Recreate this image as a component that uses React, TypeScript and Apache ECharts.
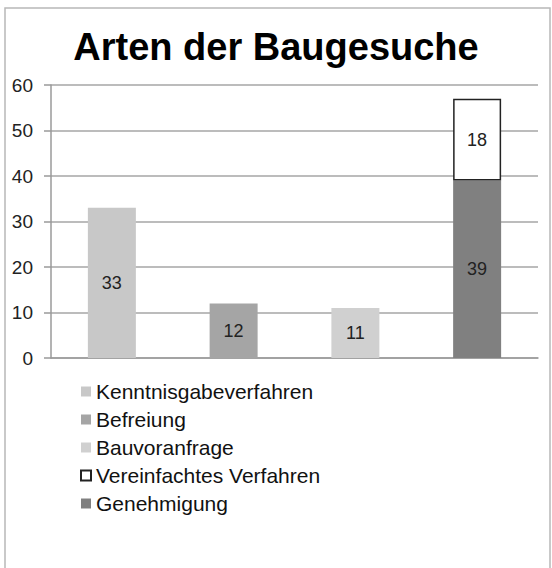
import React, { useEffect, useRef } from "react";
import * as echarts from "echarts";

const categories = ["A", "B", "C", "D"];
const kenntnis = [33, "-", "-", "-"];
const befreiung = ["-", 12, "-", "-"];
const bauvoranfrage = ["-", "-", 11, "-"];
const genehmigung = ["-", "-", "-", 39];
const vereinfacht = ["-", "-", "-", 18];
const legendNames = [
  "Kenntnisgabeverfahren",
  "Befreiung",
  "Bauvoranfrage",
  "Vereinfachtes Verfahren",
  "Genehmigung",
];
const titleText = "Arten der Baugesuche";

export default function App() {
  const ref = useRef<HTMLDivElement>(null);
  useEffect(() => {
    if (!ref.current) return;
    const chart = echarts.init(ref.current, null, { renderer: "svg" });
    const font = "Liberation Sans, Arial, sans-serif";
    const label = {
      show: true,
      position: "inside",
      color: "#222",
      fontSize: 18,
      fontFamily: font,
    };
    const mk = (name: string, data: any[], color: string, extra: any = {}) => ({
      name,
      type: "bar",
      stack: "s",
      barWidth: 48,
      data,
      label,
      itemStyle: { color, ...extra },
    });
    chart.setOption({
      animation: false,
      backgroundColor: "#fff",
      title: {
        text: titleText,
        left: "center",
        top: 23,
        textStyle: { fontSize: 38, fontWeight: "bold", color: "#000", fontFamily: font },
      },
      graphic: [
        {
          type: "rect",
          shape: { x: 5, y: 8, width: 545, height: 600 },
          style: { fill: "none", stroke: "#b8b8b8", lineWidth: 1.5 },
          silent: true,
        },
      ],
      grid: { left: 51, top: 85, width: 487, height: 273 },
      legend: {
        orient: "vertical",
        left: 75,
        top: 376,
        padding: 5,
        itemWidth: 10,
        itemHeight: 10,
        itemGap: 7,
        icon: "rect",
        data: legendNames,
        textStyle: { fontSize: 21, color: "#111", fontFamily: font, lineHeight: 20 },
      },
      xAxis: {
        type: "category",
        data: categories,
        axisLine: { show: true, lineStyle: { color: "#9a9a9a", width: 1.5 } },
        axisTick: { show: false },
        axisLabel: { show: false },
      },
      yAxis: {
        type: "value",
        min: 0,
        max: 60,
        interval: 10,
        axisLine: { show: true, lineStyle: { color: "#9a9a9a", width: 1.5 } },
        axisTick: { show: true, length: 7, lineStyle: { color: "#9a9a9a", width: 1.5 } },
        splitLine: { lineStyle: { color: "#a6a6a6", width: 1.5 } },
        axisLabel: { color: "#222", fontSize: 19, fontFamily: font, margin: 18 },
      },
      series: [
        mk(legendNames[0], kenntnis, "#c8c8c8"),
        mk(legendNames[1], befreiung, "#a5a5a5"),
        mk(legendNames[2], bauvoranfrage, "#d0d0d0"),
        mk(legendNames[4], genehmigung, "#808080"),
        mk(legendNames[3], vereinfacht, "#ffffff", { borderColor: "#222", borderWidth: 1.5 }),
      ],
    });
    return () => chart.dispose();
  }, []);
  return (
    <div
      ref={ref}
      style={{ position: "fixed", left: 0, top: 0, width: 552, height: 568 }}
    />
  );
}
